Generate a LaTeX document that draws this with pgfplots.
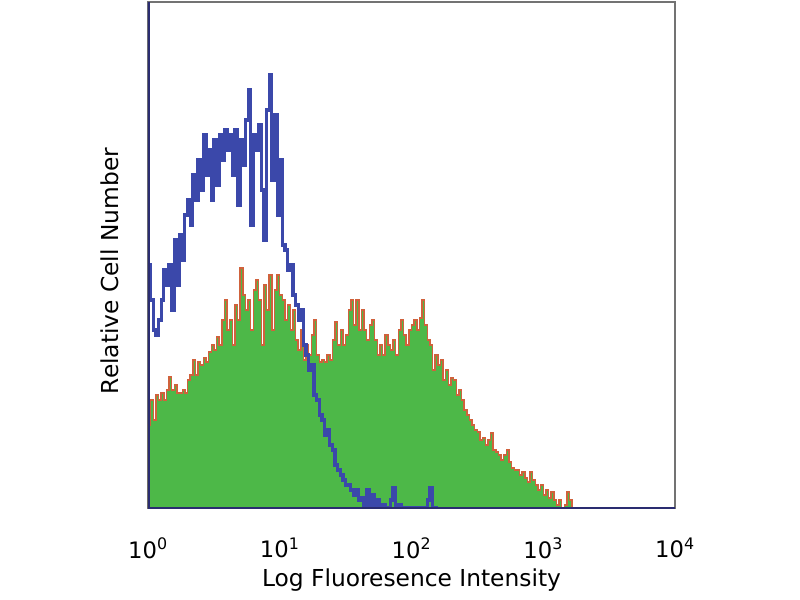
\documentclass[border=0pt]{standalone}
\usepackage{pgfplots}
\pgfplotsset{compat=1.18}
\usepackage{pgfplotstable}
\usepackage{fontspec}
\setmainfont{DejaVu Sans}

\definecolor{histblue}{HTML}{3B48AA}
\definecolor{histgreen}{HTML}{4DB848}
\definecolor{histred}{HTML}{D0623C}
\definecolor{frame}{HTML}{2A2C70}

% x in decades (log10 of intensity), y in relative counts
\pgfplotstableread{
x y
0.00 243
0.02 208
0.04 178
0.06 173
0.08 188
0.10 208
0.12 238
0.14 223
0.16 243
0.18 198
0.20 268
0.22 223
0.24 273
0.26 248
0.28 293
0.30 308
0.32 283
0.34 333
0.36 308
0.38 348
0.40 318
0.42 373
0.44 333
0.46 358
0.48 308
0.50 368
0.52 323
0.54 373
0.56 348
0.58 378
0.60 358
0.62 373
0.64 333
0.66 378
0.68 303
0.70 368
0.72 343
0.74 388
0.76 418
0.78 283
0.80 373
0.82 358
0.84 383
0.86 318
0.88 268
0.90 398
0.92 433
0.94 328
0.96 393
0.98 293
1.00 348
1.02 263
1.04 258
1.06 238
1.08 243
1.10 213
1.12 203
1.14 188
1.16 198
1.18 163
1.20 153
1.22 138
1.24 143
1.26 113
1.28 108
1.30 93
1.32 88
1.34 73
1.36 78
1.38 63
1.40 58
1.42 43
1.44 38
1.46 33
1.48 28
1.50 23
1.52 23
1.54 18
1.56 13
1.58 18
1.60 8
1.62 10
1.64 3
1.66 18
1.68 3
1.70 13
1.72 3
1.74 8
1.76 0
1.78 3
1.80 0
1.84 8
1.86 20
1.88 0
1.90 3
1.92 0
2.12 8
2.14 20
2.16 0
2.20 0
}\bluedata

\pgfplotstableread{
x y
0.00 83
0.02 108
0.04 88
0.06 113
0.08 108
0.10 115
0.12 108
0.14 118
0.16 131
0.18 118
0.20 123
0.22 115
0.24 115
0.26 118
0.28 115
0.30 128
0.32 133
0.34 148
0.36 133
0.38 146
0.40 143
0.42 150
0.44 146
0.46 156
0.48 163
0.50 158
0.52 171
0.54 163
0.56 188
0.58 208
0.60 178
0.62 188
0.64 163
0.66 203
0.68 188
0.70 240
0.72 213
0.74 198
0.76 208
0.78 178
0.80 218
0.82 228
0.84 208
0.86 163
0.88 223
0.90 198
0.92 233
0.94 178
0.96 218
0.98 233
1.00 213
1.02 208
1.04 188
1.06 203
1.08 178
1.10 198
1.12 168
1.14 158
1.16 178
1.18 148
1.20 163
1.22 153
1.24 173
1.26 188
1.28 153
1.30 146
1.32 148
1.34 146
1.36 153
1.38 148
1.40 168
1.42 186
1.44 163
1.46 178
1.48 163
1.50 173
1.52 198
1.54 208
1.56 183
1.58 208
1.60 178
1.62 198
1.64 178
1.66 168
1.68 183
1.70 188
1.72 168
1.74 153
1.76 163
1.78 153
1.80 173
1.82 163
1.84 158
1.86 168
1.88 153
1.90 178
1.92 188
1.94 173
1.96 163
1.98 178
2.00 183
2.02 188
2.04 178
2.06 190
2.08 208
2.10 183
2.12 168
2.14 163
2.16 138
2.18 153
2.20 143
2.22 148
2.24 128
2.26 138
2.28 123
2.30 130
2.32 128
2.34 113
2.36 118
2.38 108
2.40 98
2.42 93
2.44 88
2.46 83
2.48 78
2.50 76
2.52 68
2.54 70
2.56 63
2.58 68
2.60 75
2.62 58
2.64 56
2.66 53
2.68 48
2.70 53
2.72 58
2.74 46
2.76 40
2.78 38
2.80 38
2.82 33
2.84 36
2.86 30
2.88 26
2.90 36
2.92 28
2.94 23
2.96 18
2.98 23
3.00 13
3.02 18
3.04 10
3.06 16
3.08 8
3.10 3
3.12 8
3.14 0
3.16 3
3.18 16
3.20 8
3.22 0
}\greendata

\begin{document}
\begin{tikzpicture}
\begin{axis}[
    scale only axis,
    width=395.25pt, height=379.5pt,
    xmin=0, xmax=4,
    ymin=0, ymax=506,
    xtick={0,1,2,3,4},
    xticklabels={10\textsuperscript{0},10\textsuperscript{1},10\textsuperscript{2},10\textsuperscript{3},10\textsuperscript{4}},
    ytick=\empty,
    major tick length=0pt,
    axis line style={draw=black!55, line width=0.9pt},
    tick label style={font=\fontsize{17}{20}\selectfont},
    xticklabel style={yshift=-19pt},
    label style={font=\fontsize{17.5}{21}\selectfont},
    xlabel={Log Fluoresence Intensity},
    ylabel={Relative Cell Number},
    xlabel style={yshift=-1pt},
    ylabel style={yshift=18pt, xshift=-12pt},
    clip=true,
]
\addplot[const plot, fill=histgreen, draw=histred, line width=1.1pt]
    table[x=x, y=y] {\greendata} \closedcycle;
\addplot[const plot, draw=histblue, line width=2.4pt]
    table[x=x, y=y] {\bluedata};
\draw[frame, line width=2.4pt] (rel axis cs:0,0) -- (rel axis cs:0,1);
\draw[frame, line width=1.3pt] (rel axis cs:0,0) -- (rel axis cs:1,0);
\end{axis}
\path (current axis.south west) ++(-111pt,-69pt) rectangle ++(600pt,450pt);
\end{tikzpicture}
\end{document}
